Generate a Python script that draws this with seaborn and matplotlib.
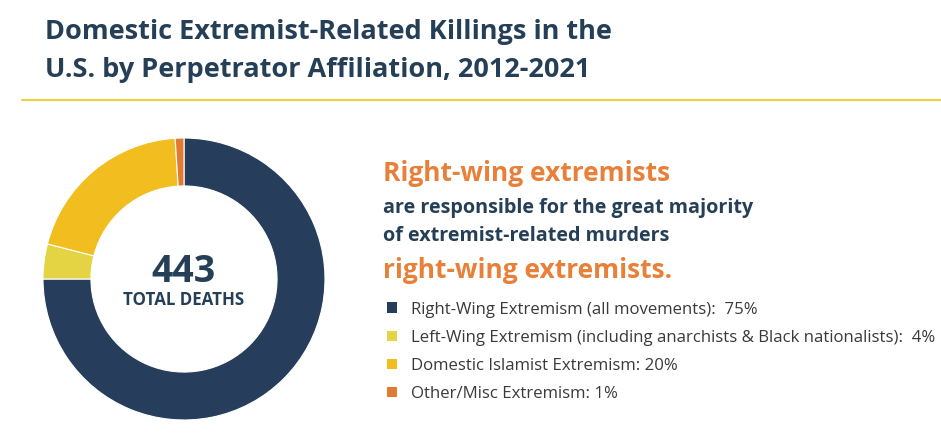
import matplotlib
matplotlib.use('Agg')
import matplotlib.pyplot as plt
import seaborn as sns
from matplotlib.patches import Patch
from matplotlib.lines import Line2D

categories = ['Right-Wing Extremism (all movements)',
              'Left-Wing Extremism (including anarchists & Black nationalists)',
              'Domestic Islamist Extremism',
              'Other/Misc Extremism']
shares = [75, 4, 20, 1]
separators = ['  ', '  ', ' ', ' ']
total_deaths = 443
colors = ['#263e5c', '#e4d443', '#f2bd1f', '#e27b32']

title = 'Domestic Extremist-Related Killings in the\nU.S. by Perpetrator Affiliation, 2012-2021'
headline = 'Right-wing extremists'
subline = 'are responsible for the great majority\nof extremist-related murders'
tagline = 'right-wing extremists.'

sns.set_theme(style='white')
body = ['Open Sans', 'DejaVu Sans']
plt.rcParams['font.family'] = body

navy = '#253f57'
orange = '#e8803a'

fig = plt.figure(figsize=(9.41, 4.41), dpi=100)
fig.patch.set_facecolor('white')

# title + rule
fig.text(45 / 941, 1 - 19 / 441, title, ha='left', va='top', fontsize=19.5,
         fontweight='bold', color=navy, linespacing=1.6)
fig.add_artist(Line2D([22 / 941, 1], [1 - 100 / 441] * 2, color='#e6d24c',
                      lw=1.6, transform=fig.transFigure))

# donut
ax = fig.add_axes([43 / 941, 21 / 441, 282 / 941, 282 / 441])
ax.pie(shares, colors=colors, startangle=90, counterclock=False, radius=1,
       wedgeprops=dict(width=0.34, edgecolor='white', linewidth=0.8))
ax.set_xlim(-1, 1)
ax.set_ylim(-1, 1)
ax.set_aspect('equal')
ax.axis('off')
ax.text(0.0, 0.05, str(total_deaths), ha='center', va='center', fontsize=27,
        fontweight='bold', color=navy)
ax.text(0.0, -0.15, 'TOTAL DEATHS', ha='center', va='center', fontsize=12.2,
        fontweight='bold', color=navy)

# right hand text
fig.text(383 / 941, 1 - 173 / 441, headline, ha='left', va='center',
         fontsize=19, fontweight='bold', color=orange)
fig.text(383 / 941, 1 - 222 / 441, subline, ha='left', va='center',
         fontsize=14.2, fontweight='bold', color=navy, linespacing=1.5)
fig.text(383 / 941, 1 - 270 / 441, tagline, ha='left', va='center',
         fontsize=19, fontweight='bold', color=orange)

labels = [f'{c}:{s}{v}%' for c, s, v in zip(categories, separators, shares)]
handles = [Patch(facecolor=c, edgecolor='none') for c in colors]
fig.legend(handles, labels, loc='upper left',
           bbox_to_anchor=(380 / 941, 1 - 295 / 441), frameon=False,
           fontsize=12.1, handlelength=0.6, handleheight=0.6,
           handletextpad=0.85, labelspacing=0.72, borderaxespad=0,
           labelcolor='#3a3a3a')

fig.savefig('out.png', dpi=100, facecolor='white')
